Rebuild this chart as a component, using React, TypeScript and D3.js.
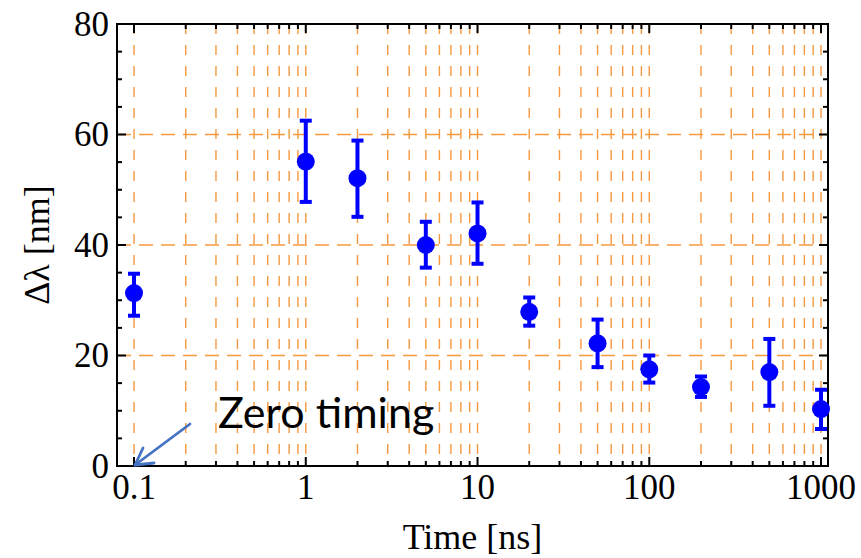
import React from "react";
import * as d3 from "d3";

const times = [0.1, 1, 2, 5, 10, 20, 50, 100, 200, 500, 1000];
const values = [31.3, 55.1, 52.1, 40.0, 42.1, 27.9, 22.2, 17.5, 14.3, 17.0, 10.3];
const errLow = [27.2, 47.8, 45.1, 35.9, 36.6, 25.4, 17.9, 15.1, 12.5, 10.9, 6.7];
const errHigh = [34.8, 62.5, 58.9, 44.2, 47.7, 30.5, 26.5, 20.0, 16.2, 23.0, 13.8];
const xTickLabels = [0.1, 1, 10, 100, 1000];
const yTickLabels = [0, 20, 40, 60, 80];
const yGrid = [20, 40, 60];

const W = 861, H = 558;
const L = 117, R = 828, T = 24, B = 466;

export default function App() {
  const x = d3.scaleLog().domain([0.0796, 1098]).range([L, R]);
  const y = d3.scaleLinear().domain([0, 80]).range([B, T]);

  const xMinor: number[] = [];
  for (const d of [0.1, 1, 10, 100]) for (let k = 1; k <= 9; k++) xMinor.push(d * k);
  xMinor.push(1000);
  const yMinor = d3.range(0, 81, 5);
  const grid = "#f5993f";
  const serif = "'Liberation Serif', 'Times New Roman', serif";
  const tx = x(0.1);

  return (
    <svg width={W} height={H} style={{ position: "absolute", left: 0, top: 0, background: "#fff" }}>
      {/* vertical grid */}
      {xMinor.map((v, i) => (
        <line key={"vg" + i} x1={x(v)} x2={x(v)} y1={T} y2={B} stroke={grid} strokeWidth={1.4} strokeDasharray="10,11" />
      ))}
      {yGrid.map((v, i) => (
        <line key={"hg" + i} x1={L} x2={R} y1={y(v)} y2={y(v)} stroke={grid} strokeWidth={1.5} strokeDasharray="14,8" />
      ))}
      {/* frame */}
      <rect x={L} y={T} width={R - L} height={B - T} fill="none" stroke="#000" strokeWidth={2} />
      {/* ticks */}
      {xMinor.map((v, i) => {
        const major = xTickLabels.includes(v);
        const len = major ? 9 : 5;
        return (
          <g key={"xt" + i}>
            <line x1={x(v)} x2={x(v)} y1={B} y2={B - len} stroke="#000" strokeWidth={2} />
            <line x1={x(v)} x2={x(v)} y1={T} y2={T + len} stroke="#000" strokeWidth={2} />
          </g>
        );
      })}
      {yMinor.map((v, i) => {
        const major = v % 20 === 0;
        const len = major ? 9 : 5;
        return (
          <g key={"yt" + i}>
            <line x1={L} x2={L + len} y1={y(v)} y2={y(v)} stroke="#000" strokeWidth={2} />
            <line x1={R} x2={R - len} y1={y(v)} y2={y(v)} stroke="#000" strokeWidth={2} />
          </g>
        );
      })}
      {/* tick labels */}
      {xTickLabels.map((v, i) => (
        <text key={"xl" + i} x={x(v)} y={499} textAnchor="middle" fontFamily={serif} fontSize={35} fill="#000">
          {String(v)}
        </text>
      ))}
      {yTickLabels.map((v, i) => (
        <text key={"yl" + i} x={109} y={y(v)} dy="0.34em" textAnchor="end" fontFamily={serif} fontSize={35} fill="#000">
          {String(v)}
        </text>
      ))}
      {/* axis titles */}
      <text x={(L + R) / 2} y={549} textAnchor="middle" fontFamily={serif} fontSize={36} fill="#000">
        Time [ns]
      </text>
      <text transform={`translate(49, ${(T + B) / 2}) rotate(-90)`} textAnchor="middle" fontFamily={serif} fontSize={36} fill="#000">
        Δλ [nm]
      </text>
      {/* data */}
      {times.map((t, i) => (
        <g key={"p" + i}>
          <line x1={x(t)} x2={x(t)} y1={y(errLow[i])} y2={y(errHigh[i])} stroke="#0000ff" strokeWidth={4} />
          <line x1={x(t) - 6} x2={x(t) + 6} y1={y(errLow[i])} y2={y(errLow[i])} stroke="#0000ff" strokeWidth={4} />
          <line x1={x(t) - 6} x2={x(t) + 6} y1={y(errHigh[i])} y2={y(errHigh[i])} stroke="#0000ff" strokeWidth={4} />
          <circle cx={x(t)} cy={y(values[i])} r={9} fill="#0000ff" />
        </g>
      ))}
      {/* annotation */}
      <text x={218} y={428} fontFamily="Lato, 'Open Sans', sans-serif" fontSize={43} fill="#000">
        Zero timing
      </text>
      <g stroke="#4472c4" strokeWidth={2.8} fill="none" strokeLinecap="round" strokeLinejoin="round">
        <line x1={190} x2={tx + 1} y1={424} y2={B - 1} />
        <polyline points={`${tx + 9},${B - 18} ${tx + 1},${B - 1} ${tx + 20},${B - 3}`} />
      </g>
    </svg>
  );
}
